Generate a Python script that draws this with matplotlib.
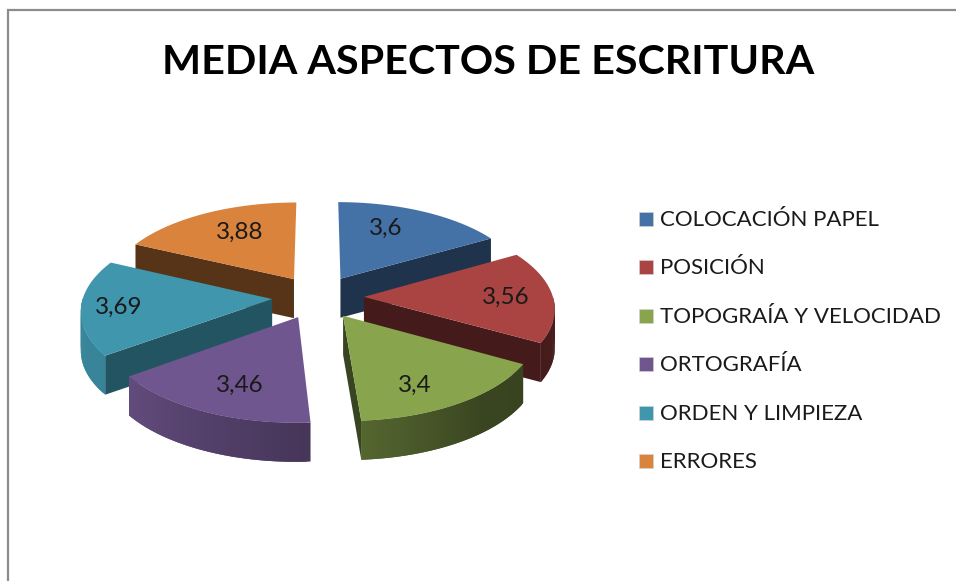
import numpy as np
import matplotlib
matplotlib.use("Agg")
import matplotlib.pyplot as plt
from matplotlib.patches import Polygon, Rectangle

categories = ["COLOCACIÓN PAPEL", "POSICIÓN", "TOPOGRAÍA Y VELOCIDAD", "ORTOGRAFÍA", "ORDEN Y LIMPIEZA", "ERRORES"]
values = [3.6, 3.56, 3.4, 3.46, 3.69, 3.88]
value_labels = ["3,6", "3,56", "3,4", "3,46", "3,69", "3,88"]
title = "MEDIA ASPECTOS DE ESCRITURA"

colors = ["#4472a6", "#a94442", "#88a44d", "#70568e", "#3f96ad", "#d9833c"]
side_shade = [0.46, 0.40, 0.42, 0.45, 0.56, 0.40]
label_pos = [(386, 228), (506, 297), (415, 385), (240, 385), (119, 307), (240, 232)]

# projection settings, pixels
cx, cy = 318, 297
rx, ry = 189, 89
persp = 0.112
explode = 0.243
depth = 39


def project(x, y):
    s = 1 / (1 + persp * y)
    return cx + rx * x * s, cy - ry * y * s


def shade(color, f):
    return tuple(c * f for c in matplotlib.colors.to_rgb(color))


def arc_shade(t):
    return np.interp(t, [90, 140, 176, 234, 270], [0.40, 0.42, 0.62, 0.88, 0.90])


fig = plt.figure(figsize=(9.56, 5.81), dpi=100)
ax = fig.add_axes([0, 0, 1, 1])
ax.set_xlim(0, 956)
ax.set_ylim(581, 0)
ax.axis("off")

# chart frame, runs off the right and the bottom
ax.plot([8, 8, 956], [581, 10, 10], color="#8c8c8c", lw=1.6, solid_joinstyle="miter")

ax.text(488, 63, title, ha="center", va="center", fontsize=29.7, fontweight="bold",
        family="Lato", color="black")

ends = np.cumsum(values) / np.sum(values) * 360
starts = np.r_[0, ends[:-1]]
draw_order = [5, 0, 1, 4, 2, 3]

for i in draw_order:
    t0, t1 = starts[i], ends[i]
    mid = np.radians((t0 + t1) / 2)
    ox, oy = explode * np.sin(mid), explode * np.cos(mid)
    ts = np.linspace(t0, t1, 60)
    px, py = project(ox + np.sin(np.radians(ts)), oy + np.cos(np.radians(ts)))
    ax_, ay_ = project(ox, oy)

    # flat cut faces which look at the viewer
    if np.sin(np.radians(t0)) < -1e-6:
        poly = [(ax_, ay_), (px[0], py[0]), (px[0], py[0] + depth), (ax_, ay_ + depth)]
        ax.add_patch(Polygon(poly, fc=shade(colors[i], side_shade[i]), ec="none"))
    if np.sin(np.radians(t1)) > 1e-6:
        poly = [(ax_, ay_), (px[-1], py[-1]), (px[-1], py[-1] + depth), (ax_, ay_ + depth)]
        ax.add_patch(Polygon(poly, fc=shade(colors[i], side_shade[i]), ec="none"))

    # outer rim, only the front part shows; each strip overlaps the next to hide seams
    for k in range(len(ts) - 1):
        tm = (ts[k] + ts[k + 1]) / 2
        if np.cos(np.radians(tm)) < 0:
            n = min(k + 2, len(ts) - 1)
            c = shade(colors[i], arc_shade(tm))
            poly = [(px[k], py[k]), (px[k + 1], py[k + 1]), (px[n], py[n]),
                    (px[n], py[n] + depth), (px[k + 1], py[k + 1] + depth), (px[k], py[k] + depth)]
            ax.add_patch(Polygon(poly, fc=c, ec="none"))

    # top
    top = np.column_stack([np.r_[ax_, px], np.r_[ay_, py]])
    ax.add_patch(Polygon(top, fc=colors[i], ec="none"))

for pos, txt in zip(label_pos, value_labels):
    ax.text(pos[0], pos[1], txt, ha="center", va="center", fontsize=17.5, family="Lato", color="#1a1a1a")

# legend
for i, name in enumerate(categories):
    y = 219 + i * 48.4
    ax.add_patch(Rectangle((639, y - 7), 14, 14, fc=colors[i], ec="#d5d5d5", lw=0.4))
    ax.text(660, y + 1, name, ha="left", va="center", fontsize=16, family="Lato", color="#1a1a1a")

fig.savefig("out.png", dpi=100)
